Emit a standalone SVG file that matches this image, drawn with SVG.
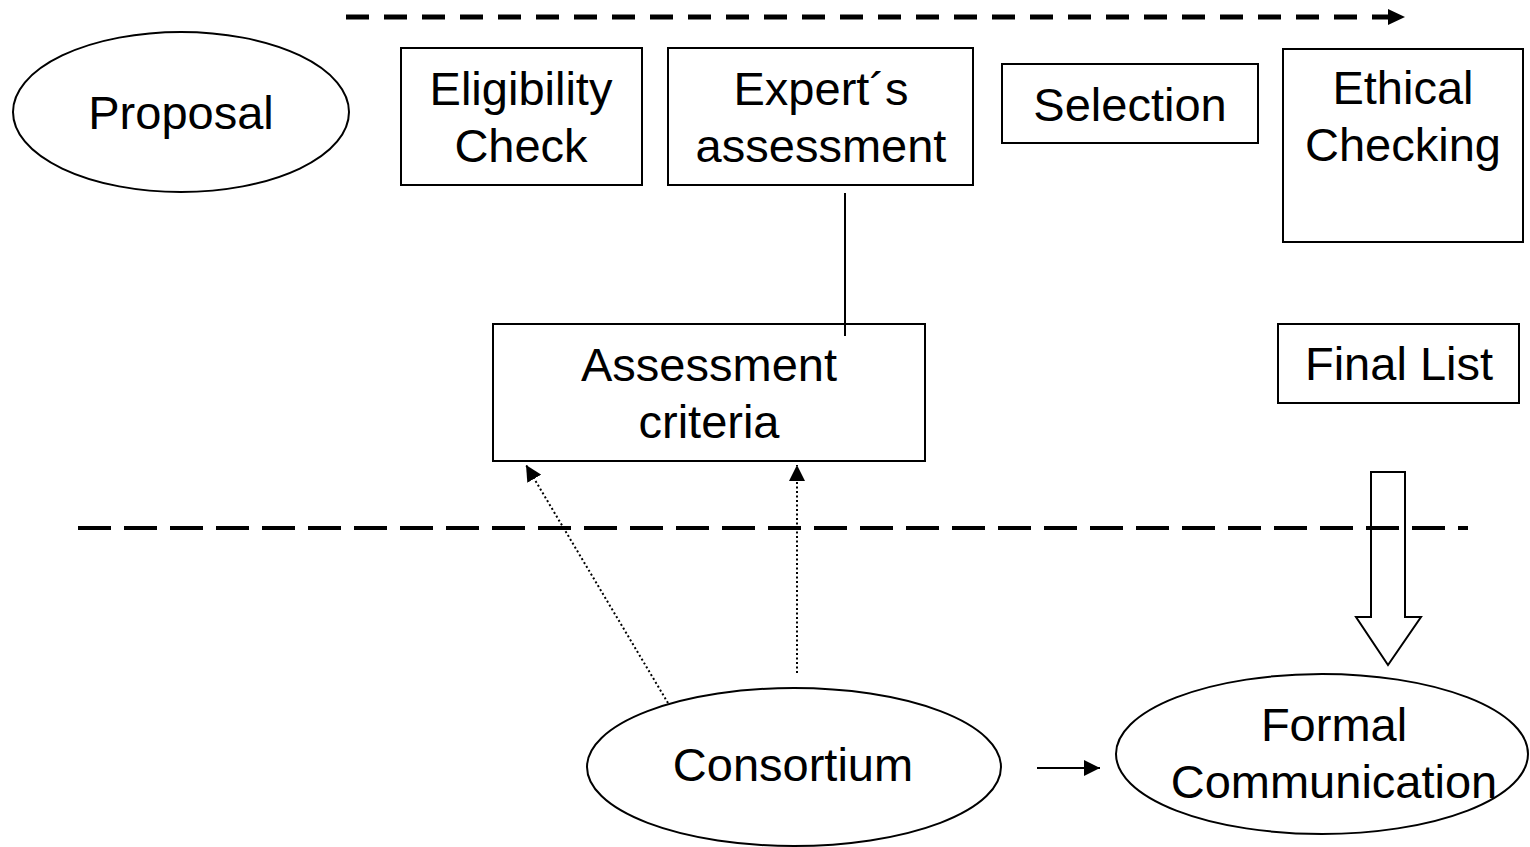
<svg xmlns="http://www.w3.org/2000/svg" width="1530" height="847" viewBox="0 0 1530 847">
  <style>
    .shape { fill: #ffffff; stroke: #000000; stroke-width: 2; }
    .label { font-family: "Liberation Sans", Arial, sans-serif; font-size: 47px; fill: #000000; text-anchor: middle; }
    .flow { fill: none; stroke: #000000; stroke-width: 5; stroke-dasharray: 23 15; }
    .divider { fill: none; stroke: #000000; stroke-width: 4; stroke-dasharray: 33 13; }
    .dotted { fill: none; stroke: #000000; stroke-width: 2; stroke-dasharray: 2 2.5; }
    .solid { fill: none; stroke: #000000; stroke-width: 2; }
  </style>
  <defs>
    <marker id="head" viewBox="0 0 10 10" refX="10" refY="5" markerWidth="8" markerHeight="8" markerUnits="userSpaceOnUse" orient="auto">
      <path d="M0,0 L10,5 L0,10 z" fill="#000000"/>
    </marker>
    <marker id="headSmall" viewBox="0 0 10 10" refX="10" refY="5" markerWidth="16" markerHeight="16" markerUnits="userSpaceOnUse" orient="auto">
      <path d="M0,0 L10,5 L0,10 z" fill="#000000"/>
    </marker>
  </defs>

  <rect width="1530" height="847" fill="#ffffff"/>

  <!-- connectors -->
  <g id="connectors">
    <!-- process direction arrow along the top -->
    <line class="flow" x1="346" y1="17" x2="1390" y2="17"/>
    <path d="M1388,9 L1405,17 L1388,25 z" fill="#000000"/>
    <!-- divider line -->
    <line class="divider" x1="78" y1="528" x2="1468" y2="528"/>
    <!-- expert assessment to criteria -->
    <line class="solid" x1="845" y1="193" x2="845" y2="336"/>
    <!-- consortium to assessment criteria (dotted) -->
    <line class="dotted" x1="668" y1="703" x2="526" y2="465" marker-end="url(#headSmall)"/>
    <line class="dotted" x1="797" y1="673" x2="797" y2="465" marker-end="url(#headSmall)"/>
    <!-- consortium to formal communication -->
    <line class="solid" x1="1037" y1="768" x2="1100" y2="768" marker-end="url(#headSmall)"/>
    <!-- final list block arrow -->
    <path class="shape" d="M1371,472 L1405,472 L1405,617 L1421,617 L1388,665 L1356,617 L1371,617 z" fill="none" style="fill:none"/>
  </g>

  <g id="proposal">
    <ellipse class="shape" cx="181" cy="112" rx="168" ry="80"/>
    <text class="label" x="181" y="129">Proposal</text>
  </g>

  <g id="eligibility-check">
    <rect class="shape" x="401" y="48" width="241" height="137"/>
    <text class="label" x="521" y="105">Eligibility</text>
    <text class="label" x="521" y="162">Check</text>
  </g>

  <g id="experts-assessment">
    <rect class="shape" x="668" y="48" width="305" height="137"/>
    <text class="label" x="821" y="105">Expert´s</text>
    <text class="label" x="821" y="162">assessment</text>
  </g>

  <g id="selection">
    <rect class="shape" x="1002" y="64" width="256" height="79"/>
    <text class="label" x="1130" y="121">Selection</text>
  </g>

  <g id="ethical-checking">
    <rect class="shape" x="1283" y="49" width="240" height="193"/>
    <text class="label" x="1403" y="104">Ethical</text>
    <text class="label" x="1403" y="161">Checking</text>
  </g>

  <g id="assessment-criteria">
    <rect class="shape" x="493" y="324" width="432" height="137" style="fill:none"/>
    <text class="label" x="709" y="381">Assessment</text>
    <text class="label" x="709" y="438">criteria</text>
  </g>

  <g id="final-list">
    <rect class="shape" x="1278" y="324" width="241" height="79"/>
    <text class="label" x="1399" y="380">Final List</text>
  </g>

  <g id="consortium">
    <ellipse class="shape" cx="794" cy="767" rx="207" ry="79"/>
    <text class="label" x="793" y="781">Consortium</text>
  </g>

  <g id="formal-communication">
    <ellipse class="shape" cx="1322" cy="754" rx="206" ry="80" style="fill:none"/>
    <text class="label" x="1334" y="741">Formal</text>
    <text class="label" x="1334" y="798">Communication</text>
  </g>
</svg>
